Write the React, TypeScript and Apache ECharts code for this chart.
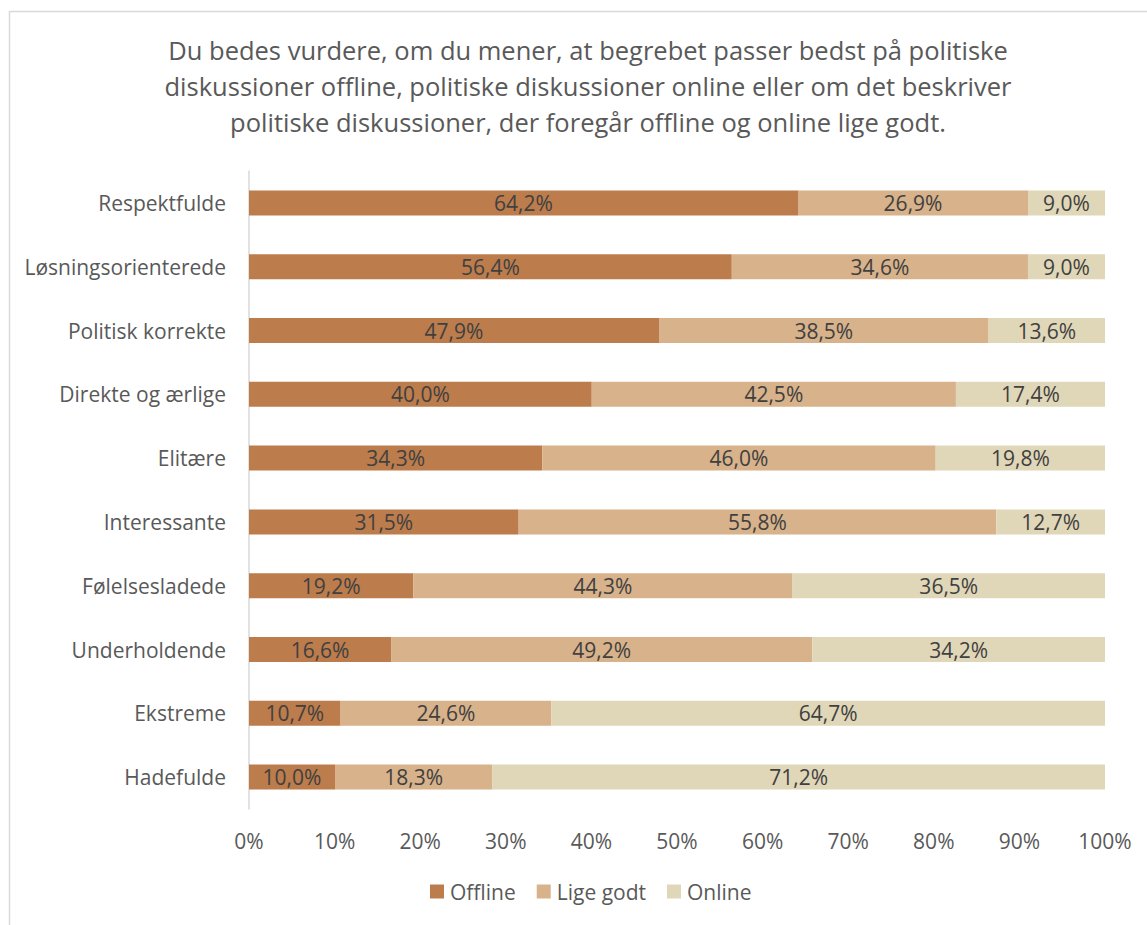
import React, { useEffect, useRef } from "react";
import * as echarts from "echarts";

const titleLines = [
  "Du bedes vurdere, om du mener, at begrebet passer bedst på politiske",
  "diskussioner offline, politiske diskussioner online eller om det beskriver",
  "politiske diskussioner, der foregår offline og online lige godt.",
];
const categories = [
  "Respektfulde",
  "Løsningsorienterede",
  "Politisk korrekte",
  "Direkte og ærlige",
  "Elitære",
  "Interessante",
  "Følelsesladede",
  "Underholdende",
  "Ekstreme",
  "Hadefulde",
];
const offline = [64.2, 56.4, 47.9, 40.0, 34.3, 31.5, 19.2, 16.6, 10.7, 10.0];
const ligeGodt = [26.9, 34.6, 38.5, 42.5, 46.0, 55.8, 44.3, 49.2, 24.6, 18.3];
const online = [9.0, 9.0, 13.6, 17.4, 19.8, 12.7, 36.5, 34.2, 64.7, 71.2];
const seriesNames = ["Offline", "Lige godt", "Online"];
const colors = ["#BC7C4C", "#D7B28A", "#E0D7B8"];

const FONT = "'Open Sans', 'Noto Sans', sans-serif";

export default function App() {
  const ref = useRef<HTMLDivElement>(null);
  useEffect(() => {
    if (!ref.current) return;
    const chart = echarts.init(ref.current, null, { renderer: "svg" });
    const totals = categories.map((_, i) => offline[i] + ligeGodt[i] + online[i]);
    // 100% stacked: each bar normalised to its row total, label shows raw value
    const mk = (name: string, data: number[], color: string) => ({
      name,
      type: "bar",
      stack: "total",
      barWidth: 25,
      data: data.map((v, i) => ({ value: (v / totals[i]) * 100, raw: v })),
      itemStyle: { color },
      label: {
        show: true,
        position: "inside",
        color: "#404040",
        fontSize: 21,
        fontFamily: FONT,
        formatter: (p: any) => p.data.raw.toFixed(1).replace(".", ",") + "%",
      },
    });
    chart.setOption({
      animation: false,
      textStyle: { fontFamily: FONT },
      title: {
        text: titleLines.join("\n"),
        left: 583,
        textAlign: "center",
        top: 27,
        textStyle: {
          fontSize: 25.5,
          fontWeight: "normal",
          color: "#595959",
          lineHeight: 36,
          fontFamily: FONT,
        },
      },
      color: colors,
      legend: {
        top: 876,
        left: 425,
        itemWidth: 14,
        itemHeight: 14,
        itemGap: 21,
        icon: "rect",
        textStyle: { fontSize: 21, color: "#595959", fontFamily: FONT, padding: [0, 0, 0, 1] },
        data: seriesNames,
      },
      grid: { left: 249, right: 42, top: 171, bottom: 116, containLabel: false },
      xAxis: {
        type: "value",
        min: 0,
        max: 100,
        interval: 10,
        axisLine: { show: false },
        axisTick: { show: false },
        splitLine: { show: false },
        axisLabel: {
          formatter: "{value}%",
          fontSize: 21,
          color: "#595959",
          margin: 21,
          fontFamily: FONT,
        },
      },
      yAxis: {
        type: "category",
        data: categories,
        inverse: true,
        axisLine: { show: true, lineStyle: { color: "#D9D9D9", width: 1.5 } },
        axisTick: { show: false },
        axisLabel: { fontSize: 21, color: "#595959", margin: 23, fontFamily: FONT },
      },
      graphic: [
        {
          type: "rect",
          shape: { x: 9.5, y: 11.5, width: 1200, height: 1000 },
          style: { fill: "none", stroke: "#D9D9D9", lineWidth: 1.5 },
          silent: true,
        },
      ],
      series: [
        mk(seriesNames[0], offline, colors[0]),
        mk(seriesNames[1], ligeGodt, colors[1]),
        mk(seriesNames[2], online, colors[2]),
      ],
    });
    return () => chart.dispose();
  }, []);
  return (
    <div
      ref={ref}
      style={{ position: "fixed", left: 0, top: 0, width: 1147, height: 925, background: "#fff" }}
    />
  );
}
